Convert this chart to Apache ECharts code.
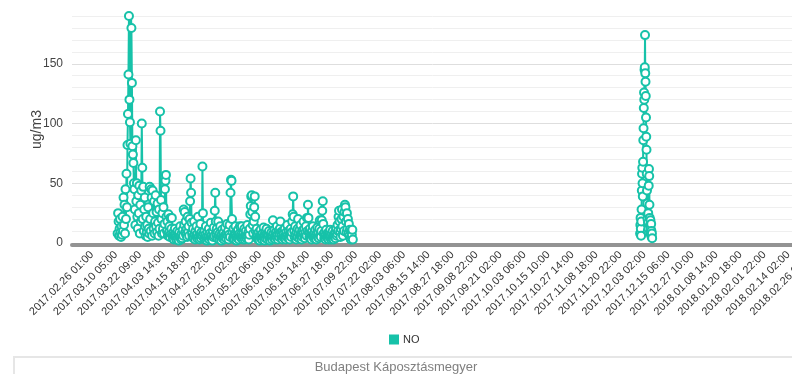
<!DOCTYPE html>
<html>
<head>
<meta charset="utf-8">
<script src="https://cdn.jsdelivr.net/npm/echarts@6/dist/echarts.min.js"></script>
<style>
  html, body { margin: 0; padding: 0; background: #fff; }
  #chart { width: 792px; height: 374px; }
</style>
</head>
<body>
<div id="chart"></div>
<script>
// Hourly NO concentration (ug/m3), Budapest Káposztásmegyer station.
const stationName = 'Budapest Káposztásmegyer';
const seriesName = 'NO';
const unitName = 'ug/m3';

// Date labels shown along the time axis
const tickLabels = [
  '2017.02.26 01:00', '2017.03.10 05:00', '2017.03.22 09:00', '2017.04.03 14:00',
  '2017.04.15 18:00', '2017.04.27 22:00', '2017.05.10 02:00', '2017.05.22 06:00',
  '2017.06.03 10:00', '2017.06.15 14:00', '2017.06.27 18:00', '2017.07.09 22:00',
  '2017.07.22 02:00', '2017.08.03 06:00', '2017.08.15 14:00', '2017.08.27 18:00',
  '2017.09.08 22:00', '2017.09.21 02:00', '2017.10.03 06:00', '2017.10.15 10:00',
  '2017.10.27 14:00', '2017.11.08 18:00', '2017.11.20 22:00', '2017.12.03 02:00',
  '2017.12.15 06:00', '2017.12.27 10:00', '2018.01.08 14:00', '2018.01.20 18:00',
  '2018.02.01 22:00', '2018.02.14 02:00', '2018.02.26 06:00'
];

// Spring / early summer measuring period (one reading every 6 hours)
const noStartA = '2017.03.11 01:00';
const noStepA = 6;
const noValuesA = [
  8, 25, 18, 6, 12, 20, 9, 5, 14, 7,
  22, 10, 38, 15, 32, 8, 45, 20, 58, 30,
  82, 108, 141, 190, 120, 101, 83, 191, 180, 134, 81, 74, 67, 50,
  45, 28, 15, 86, 35, 50, 22,
  12, 40, 25, 48, 8, 32, 18, 44,
  100, 63, 20, 47, 10, 28, 38, 14,
  6, 22, 9, 15, 5, 30, 12, 8, 47, 20,
  10, 45, 38, 6, 44, 25, 12, 35, 8, 18,
  40, 14, 26, 9, 33, 17, 6, 28, 12, 110, 94, 36, 20, 8,
  25, 12, 30, 8, 16, 45, 52, 57, 22, 10,
  18, 6, 24, 9, 14, 5, 21, 8, 12, 21,
  6, 4, 9, 3, 7, 12, 5, 8, 3, 6, 10, 4, 7, 2, 9, 5, 14, 6, 3, 8, 4, 11, 6, 28, 15, 26, 9,
  18, 7, 12, 5, 22, 9, 14, 6, 20, 35, 54, 42, 17, 8,
  5, 12, 4, 18, 7, 3, 10, 6, 14, 4, 8, 22, 5, 11, 3, 7, 16, 4, 9, 6, 64, 25, 8,
  4, 10, 3, 7, 14, 5, 2, 9, 4, 6, 12, 3, 8, 5, 17, 4, 7, 2, 10, 5, 13, 6, 27, 42, 18, 7,
  12, 4, 9, 18, 6, 3, 8, 14, 5, 2, 7, 11, 4, 6, 9, 3, 5, 13, 7, 4, 8, 16, 6, 10, 3,
  7, 15, 5, 42, 53, 52, 20, 9, 4, 12, 6,
  3, 8, 14, 5, 2, 9, 4, 11, 6, 3, 8, 14, 5, 7, 4, 14, 6, 3,
  8, 5, 12, 3, 7, 10, 4, 6, 15, 5, 9, 3, 7,
  12, 24, 31, 39, 40, 26, 15, 8, 18, 30, 39, 22, 10, 5, 12, 4, 7, 3,
  9, 5, 2, 6, 11, 4, 7, 3, 8, 5, 13, 6, 2, 9, 4, 7, 12, 5, 3, 8, 6, 10, 4, 2, 7, 5, 9, 3, 6,
  19, 8, 4, 11, 6, 3, 9, 5, 14, 7, 3, 10, 5, 8, 12, 18, 9, 4, 7, 3, 10, 5,
  8, 4, 12, 6, 3, 9, 5, 15, 7, 4, 10, 6, 3, 8, 12, 5, 9, 18,
  24, 39, 22, 10, 5, 14, 7, 3,
  9, 5, 12, 20, 8, 4, 11, 6, 15, 7, 3, 10, 5, 8, 18, 12, 6, 4, 9, 14, 6, 21, 10,
  32, 21, 9, 5, 12, 4, 8, 3, 10, 6, 14, 7, 4, 9, 5, 11, 6, 3, 8, 13, 5, 9, 4, 12, 19, 7,
  5, 10, 19, 27, 35, 16, 8, 4, 9, 6, 3, 11, 5,
  8, 4, 7, 3, 9, 5, 11, 6, 3, 8, 4, 10, 6, 3,
  7, 5, 9, 4, 12, 6, 8, 15, 10, 22, 27, 18, 9,
  5, 12, 20, 28, 14, 6, 22, 10, 26, 32, 30, 18, 9, 25, 12, 20, 8, 16, 6, 11, 4, 3, 10, 7, 11, 3
];

// Early December episode (one reading every 3 hours)
const noStartB = '2017.11.30 22:00';
const noStepB = 3;
const noValuesB = [
  8, 15, 21, 12, 6, 18, 28, 44, 58, 63,
  50, 39, 68, 86, 96, 113, 126, 120, 145, 147,
  174, 142, 135, 123, 105, 89, 78, 58, 44, 33,
  20, 10, 17, 25, 12, 48, 62, 56, 32, 21,
  15, 9, 19, 12, 7, 16, 10, 5, 8, 4
];

const lineColor = '#17c2a9';

// Convert a "YYYY.MM.DD HH:mm" stamp into hours since the first axis label
function stampMs(s) {
  const parts = s.split(' ');
  const d = parts[0].split('.').map(Number);
  const t = parts[1].split(':').map(Number);
  return Date.UTC(d[0], d[1] - 1, d[2], t[0], t[1]);
}
const originMs = stampMs(tickLabels[0]);
const toHours = s => (stampMs(s) - originMs) / 3600000;

const tickHours = tickLabels.map(toHours);
function labelFor(v) {
  let best = 0;
  for (let i = 1; i < tickHours.length; i++) {
    if (Math.abs(tickHours[i] - v) < Math.abs(tickHours[best] - v)) best = i;
  }
  return tickLabels[best];
}

const seriesData = [];
const hA = toHours(noStartA);
noValuesA.forEach((v, i) => seriesData.push([hA + i * noStepA, v]));
const hB = toHours(noStartB);
// no readings between the two periods: break the line
seriesData.push([(hA + noValuesA.length * noStepA + hB) / 2, '-']);
noValuesB.forEach((v, i) => seriesData.push([hB + i * noStepB, v]));

const chart = echarts.init(document.getElementById('chart'), null, { renderer: 'canvas' });
chart.setOption({
  animation: false,
  backgroundColor: '#fff',
  textStyle: { fontFamily: 'Liberation Sans, Arial, sans-serif' },
  // the plot runs past the right edge of the frame
  grid: { left: 72, top: 16, height: 227, width: 742, containLabel: false, outerBoundsMode: 'none' },
  legend: {
    data: [seriesName],
    left: 384,
    top: 329,
    icon: 'rect',
    itemWidth: 8,
    itemHeight: 8,
    itemGap: 10,
    textStyle: { fontSize: 11, color: '#333' }
  },
  title: {
    text: stationName,
    left: 'center',
    top: 356,
    textStyle: { fontSize: 13, fontWeight: 'normal', color: '#808080' }
  },
  graphic: [{
    type: 'rect',
    shape: { x: 14, y: 357, width: 800, height: 40 },
    style: { fill: 'none', stroke: '#e6e6e6', lineWidth: 2 },
    silent: true,
    z: -1
  }],
  xAxis: {
    type: 'value',
    min: -243,
    max: 8785,
    offset: 2,
    axisLine: { show: true, onZero: false, lineStyle: { color: '#939393', width: 4 } },
    axisTick: { show: false },
    splitLine: { show: false },
    axisLabel: {
      customValues: tickHours,
      formatter: v => labelFor(v),
      rotate: 45,
      fontSize: 11,
      color: '#333',
      margin: 8
    }
  },
  yAxis: {
    type: 'value',
    min: 0,
    max: 190,
    interval: 10,
    name: unitName,
    nameLocation: 'middle',
    nameGap: 28,
    nameMoveOverlap: false,
    nameTextStyle: { fontSize: 14, color: '#444' },
    axisLine: { show: false },
    axisTick: { show: false },
    axisLabel: {
      formatter: v => (v % 50 === 0 ? String(v) : ''),
      fontSize: 12,
      color: '#444',
      margin: 9
    },
    splitLine: {
      lineStyle: { color: ['#dedede', '#efefef', '#efefef', '#efefef', '#efefef'], width: 1 }
    }
  },
  series: [{
    name: seriesName,
    type: 'line',
    data: seriesData,
    connectNulls: false,
    symbol: 'emptyCircle',
    symbolSize: 8,
    showSymbol: true,
    itemStyle: { color: lineColor, borderColor: lineColor, borderWidth: 2 },
    lineStyle: { color: lineColor, width: 2 },
    emphasis: { disabled: true }
  }]
});
</script>
</body>
</html>
